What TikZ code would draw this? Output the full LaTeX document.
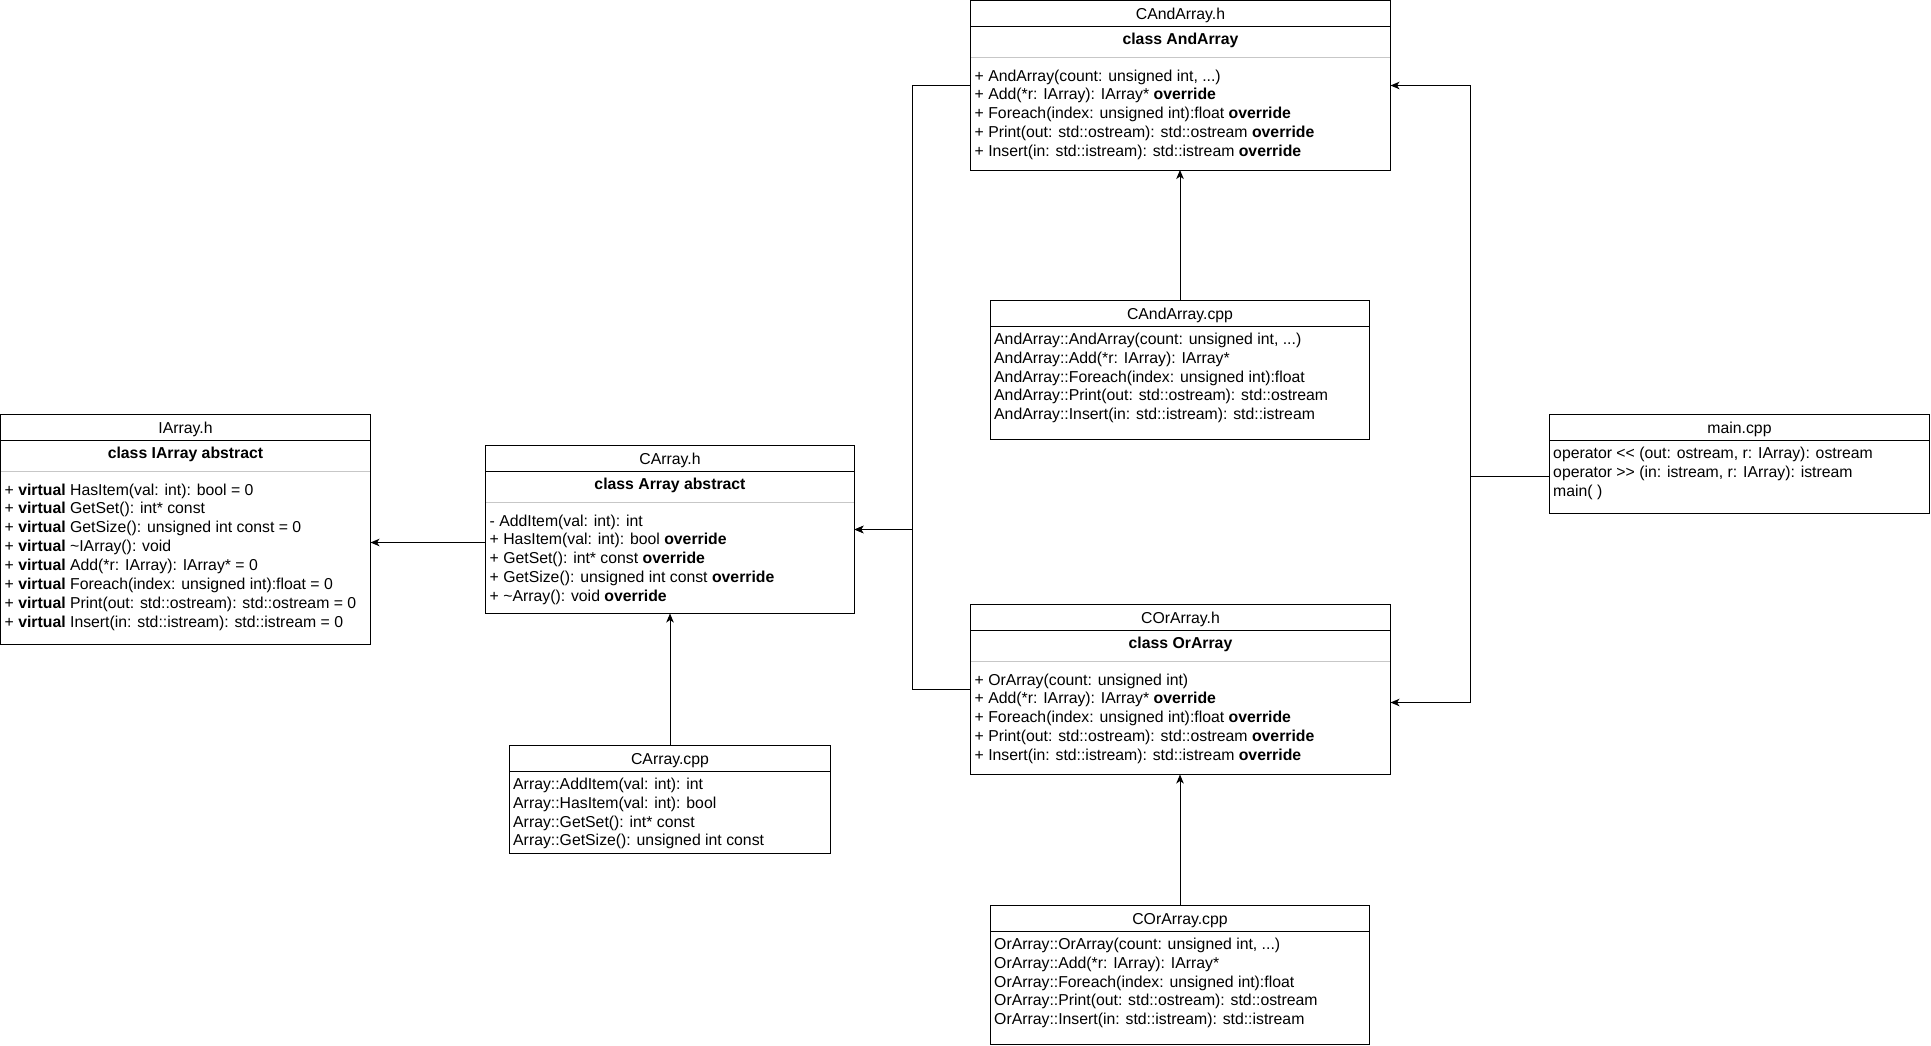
\documentclass[tikz,border=0pt]{standalone}
\usepackage{fontspec}
\setmainfont{Liberation Sans}
\usetikzlibrary{arrows.meta,calc}

\tikzset{
  box/.style={draw, line width=1pt, inner sep=0pt, outer sep=0pt, anchor=north west},
  rule/.style={line width=1pt},
  sepline/.style={line width=1pt, draw=black!22},
  txt/.style={inner sep=0pt, anchor=base west, font=\fontsize{15.8}{18}\selectfont},
  ttl/.style={inner sep=0pt, anchor=base, font=\fontsize{15.8}{18}\selectfont},
  conn/.style={line width=1pt, -{Stealth[length=9pt,width=7.5pt,inset=2.5pt]}},
}

% three literal periods (kept out of \foreach's range syntax)
\newcommand\tripledot{.\kern0pt.\kern0pt.}

% header file box: name, x, y, width, height, file, class, member rows
\newcommand\classfile[8]{%
  \node[box, minimum width=#4pt, minimum height=#5pt] (#1) at (#2,#3) {};
  \draw[rule] ($(#1.north west)+(0,26)$) -- ($(#1.north east)+(0,26)$);
  \draw[sepline] ($(#1.north west)+(0.5,56.5)$) -- ($(#1.north east)+(-0.5,56.5)$);
  \node[ttl] (#1-file) at ($(#1.north)+(0,18.5)$) {#6};
  \node[ttl] (#1-class) at ($(#1.north)+(0,43.5)$) {\bfseries #7};
  \foreach \t [count=\i from 0] in {#8}
    \node[txt] (#1-r\i) at ($(#1.north west)+(4,80.5+18.9*\i)$) {\t};
}

% source file box: name, x, y, width, height, file, rows
\newcommand\srcfile[7]{%
  \node[box, minimum width=#4pt, minimum height=#5pt] (#1) at (#2,#3) {};
  \draw[rule] ($(#1.north west)+(0,26)$) -- ($(#1.north east)+(0,26)$);
  \node[ttl] (#1-file) at ($(#1.north)+(0,18.5)$) {#6};
  \foreach \t [count=\i from 0] in {#7}
    \node[txt] (#1-r\i) at ($(#1.north west)+(3.5,43.7+18.9*\i)$) {\t};
}

\begin{document}
\begin{tikzpicture}[x=1pt, y=-1pt]
\useasboundingbox (0,0) rectangle (1931,1045);

\classfile{iarr}{0.5}{414.5}{370}{229.5}{IArray.h}{class IArray abstract}{
  {+ \textbf{virtual} HasItem(val: int): bool = 0},
  {+ \textbf{virtual} GetSet(): int* const},
  {+ \textbf{virtual} GetSize(): unsigned int const = 0},
  {+ \textbf{virtual} \textasciitilde IArray(): void},
  {+ \textbf{virtual} Add(*r: IArray): IArray* = 0},
  {+ \textbf{virtual} Foreach(index: unsigned int):float = 0},
  {+ \textbf{virtual} Print(out: std::ostream): std::ostream = 0},
  {+ \textbf{virtual} Insert(in: std::istream): std::istream = 0}}

\classfile{carr}{485.5}{445.5}{369}{168}{CArray.h}{class Array abstract}{
  {- AddItem(val: int): int},
  {+ HasItem(val: int): bool \textbf{override}},
  {+ GetSet(): int* const \textbf{override}},
  {+ GetSize(): unsigned int const \textbf{override}},
  {+ \textasciitilde Array(): void \textbf{override}}}

\srcfile{carrcpp}{509.5}{745.5}{321}{108}{CArray.cpp}{
  {Array::AddItem(val: int): int},
  {Array::HasItem(val: int): bool},
  {Array::GetSet(): int* const},
  {Array::GetSize(): unsigned int const}}

\classfile{andh}{970.5}{0.5}{420}{169.5}{CAndArray.h}{class AndArray}{
  {+ AndArray(count: unsigned int, \tripledot)},
  {+ Add(*r: IArray): IArray* \textbf{override}},
  {+ Foreach(index: unsigned int):float \textbf{override}},
  {+ Print(out: std::ostream): std::ostream \textbf{override}},
  {+ Insert(in: std::istream): std::istream \textbf{override}}}

\srcfile{andcpp}{990.5}{300.5}{379}{139}{CAndArray.cpp}{
  {AndArray::AndArray(count: unsigned int, \tripledot)},
  {AndArray::Add(*r: IArray): IArray*},
  {AndArray::Foreach(index: unsigned int):float},
  {AndArray::Print(out: std::ostream): std::ostream},
  {AndArray::Insert(in: std::istream): std::istream}}

\classfile{orh}{970.5}{604.5}{420}{170}{COrArray.h}{class OrArray}{
  {+ OrArray(count: unsigned int)},
  {+ Add(*r: IArray): IArray* \textbf{override}},
  {+ Foreach(index: unsigned int):float \textbf{override}},
  {+ Print(out: std::ostream): std::ostream \textbf{override}},
  {+ Insert(in: std::istream): std::istream \textbf{override}}}

\srcfile{orcpp}{990.5}{905.5}{379}{139}{COrArray.cpp}{
  {OrArray::OrArray(count: unsigned int, \tripledot)},
  {OrArray::Add(*r: IArray): IArray*},
  {OrArray::Foreach(index: unsigned int):float},
  {OrArray::Print(out: std::ostream): std::ostream},
  {OrArray::Insert(in: std::istream): std::istream}}

\srcfile{main}{1549.5}{414.5}{380}{99}{main.cpp}{
  {operator <\kern0pt< (out: ostream, r: IArray): ostream},
  {operator >\kern0pt> (in: istream, r: IArray): istream},
  {main( )}}

% connector levels and buses
\coordinate (yA) at (0,542.5);
\coordinate (yB) at (0,85.5);
\coordinate (yC) at (0,689.5);
\coordinate (yD) at (0,476.5);
\coordinate (yE) at (0,702.5);
\coordinate (busL) at (912.5,529.5);
\coordinate (busR) at (1470.5,476.5);

\draw[conn] (carr.west |- yA) -- (iarr.east |- yA);
\draw[conn] (carrcpp.north) -- (carrcpp.north |- carr.south);
\draw[conn] (andh.west |- yB) -| (busL) -- (carr.east);
\draw[conn] (orh.west |- yC) -| (busL) -- (carr.east);
\draw[conn] (andcpp.north) -- (andcpp.north |- andh.south);
\draw[conn] (orcpp.north) -- (orcpp.north |- orh.south);
\draw[conn] (main.west |- yD) -- (busR) |- (andh.east |- yB);
\draw[conn] (busR) |- (orh.east |- yE);
\end{tikzpicture}
\end{document}
